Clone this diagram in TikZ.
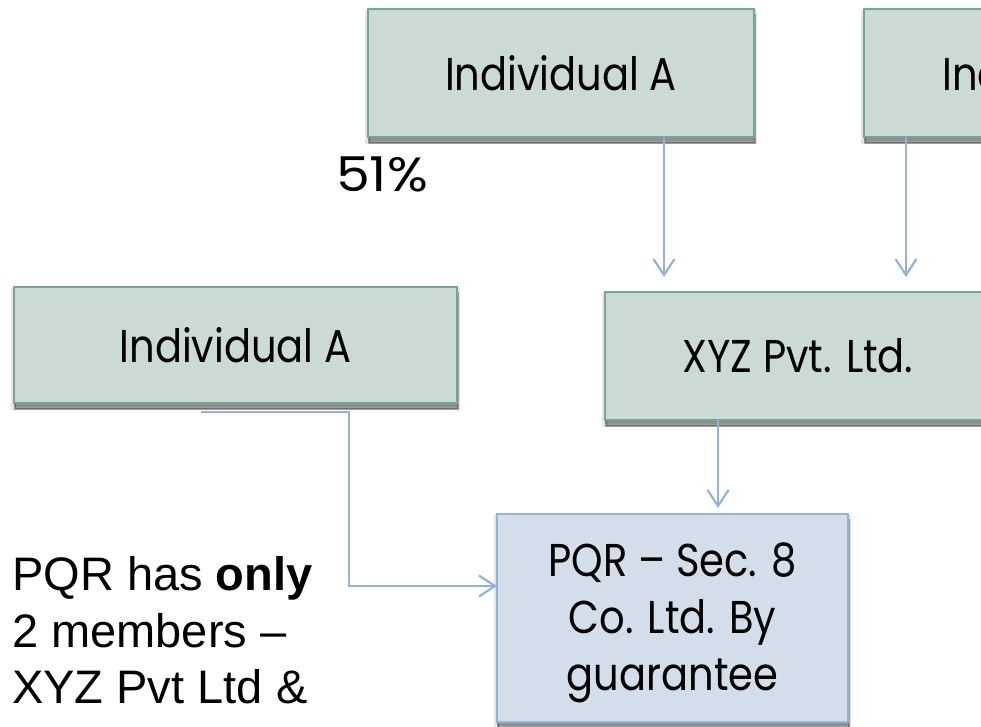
\documentclass[tikz,border=0pt]{standalone}
\usepackage{fontspec}
\usetikzlibrary{arrows.meta}
\newfontfamily\twfont[FakeStretch=0.87]{Poppins}
\newfontfamily\pctfont[FakeStretch=1.12]{Poppins}
\newfontfamily\arialfont{Liberation Sans}
\definecolor{gfill}{RGB}{203,218,213}
\definecolor{gborder}{RGB}{118,164,150}
\definecolor{bfill}{RGB}{211,222,234}
\definecolor{bborder}{RGB}{149,179,215}
\definecolor{arrcol}{RGB}{149,179,215}
\tikzset{
  shadowed/.style={
    preaction={fill=black, opacity=0.10, transform canvas={xshift=0pt,yshift=-4pt}, draw=black, line width=6pt},
    preaction={fill=black, opacity=0.30, transform canvas={xshift=1pt,yshift=-6pt}, draw=black, line width=2pt}},
  gbox/.style={shadowed, rectangle, draw=gborder, fill=gfill, line width=1.6pt,
    inner sep=0pt, outer sep=0pt, align=center,
    font=\twfont\fontsize{46}{57}\selectfont},
  bbox/.style={shadowed, rectangle, draw=bborder, fill=bfill, line width=1.6pt,
    inner sep=0pt, outer sep=0pt, align=center,
    font=\twfont\fontsize{46}{57}\selectfont},
  conn/.style={draw=arrcol, line width=2.2pt, -{Straight Barb[length=16pt,width=21pt]}},
  ltext/.style={anchor=base west, inner sep=0pt, font=\arialfont\fontsize{47}{56}\selectfont},
}
\begin{document}
\begin{tikzpicture}[x=1pt,y=-1pt]
\useasboundingbox (0,0) rectangle (981,727);
\fill[white] (0,0) rectangle (981,727);
\begin{scope}
\clip (0,0) rectangle (981,727);
% nodes
\node[gbox, minimum width=386pt, minimum height=128pt] (IA) at (561,73) {Individual A};
\node[gbox, minimum width=386pt, minimum height=128pt] (IB) at (1057,73) {Individual B};
\node[gbox, minimum width=443pt, minimum height=116pt] (IL) at (235.5,345) {Individual A};
\node[gbox, minimum width=386pt, minimum height=128pt] (XYZ) at (798,356) {XYZ Pvt. Ltd.};
\node[bbox, minimum width=351pt, minimum height=208pt] (PQR) at (672.5,618) {\rule{0pt}{44pt}PQR – Sec. 8\\Co. Ltd. By\\guarantee};
\node[anchor=base, inner sep=0pt, font=\pctfont\fontsize{48}{50}\selectfont] (pct) at (382,192) {51\%};
% text
\node[ltext] (t1) at (12,590) {PQR has \textbf{only}};
\node[ltext] (t2) at (12,647) {2 members –};
\node[ltext] (t3) at (12,703) {XYZ Pvt Ltd \&};
% connector coordinates
\coordinate (a1) at (664,277);
\coordinate (a2) at (906,277);
\coordinate (a3) at (718,508);
\coordinate (e0) at (201,412);
\coordinate (e1) at (349,412);
\coordinate (e2) at (349,586);
\coordinate (e3) at (495,586);
% connectors
\draw[conn] (IA.south -| a1) -- (a1);
\draw[conn] (IB.south -| a2) -- (a2);
\draw[conn] (XYZ.south -| a3) -- (a3);
\draw[conn] (e0) -- (e1) -- (e2) -- (PQR.west |- e3);
\end{scope}
\end{tikzpicture}
\end{document}
